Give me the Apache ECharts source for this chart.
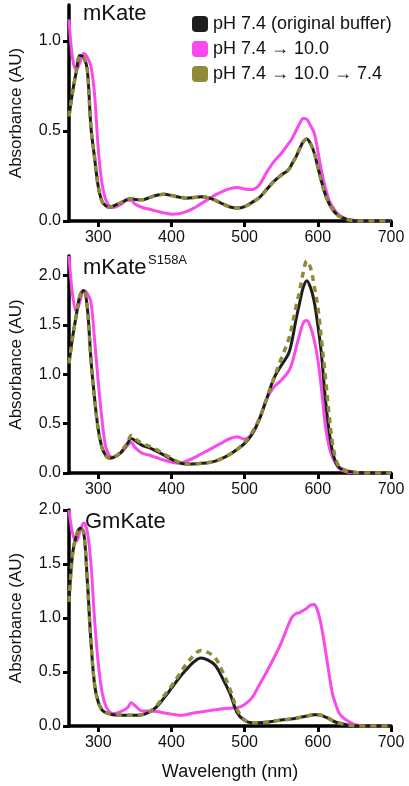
<!DOCTYPE html>
<html><head><meta charset="utf-8">
<script src="https://cdn.jsdelivr.net/npm/echarts@6/dist/echarts.min.js"></script>
<style>html,body{margin:0;padding:0;background:#fff}#c{width:409px;height:786px}</style>
</head><body><div id="c"></div>
<script>
// ---- DATA ----
const wavelengths = [260,265,270,275,280,285,290,295,300,305,310,315,320,330,340,345,350,360,370,380,390,400,410,420,430,440,450,460,470,480,490,500,510,520,530,540,550,560,565,570,575,580,585,590,595,600,605,610,615,620,625,630,640,650,660,680,700];

const seriesNames = ['pH 7.4 (original buffer)', 'pH 7.4 \u2192 10.0', 'pH 7.4 \u2192 10.0 \u2192 7.4'];
const panelTitles = ['mKate', 'mKate', 'GmKate'];
const panelSuperscripts = ['', 'S158A', ''];
const xTickValues = [300, 400, 500, 600, 700];
const yTicksMKate = [0, 0.5, 1.0];
const yTicksS158A = [0, 0.5, 1.0, 1.5, 2.0];
const yTicksGmKate = [0, 0.5, 1.0, 1.5, 2.0];
const yMaxes = [1.2, 2.2, 2.0];
const xAxisTitle = 'Wavelength (nm)';
const yAxisTitle = 'Absorbance (AU)';

// mKate
const mKateOriginal = [0.58,0.72,0.83,0.92,0.91,0.84,0.52,0.35,0.19,0.11,0.085,0.076,0.082,0.10,0.12,0.125,0.12,0.118,0.13,0.143,0.148,0.142,0.133,0.127,0.13,0.135,0.13,0.115,0.095,0.078,0.072,0.08,0.103,0.13,0.175,0.22,0.255,0.285,0.32,0.355,0.40,0.44,0.455,0.43,0.38,0.30,0.22,0.15,0.10,0.065,0.04,0.025,0.008,0.002,0,0,0];
const mKateHigh = [1.12,0.90,0.84,0.88,0.93,0.91,0.86,0.70,0.40,0.21,0.12,0.085,0.075,0.09,0.115,0.115,0.095,0.075,0.065,0.055,0.045,0.038,0.04,0.052,0.07,0.095,0.12,0.145,0.165,0.18,0.186,0.178,0.175,0.20,0.27,0.33,0.375,0.43,0.46,0.50,0.54,0.57,0.565,0.53,0.49,0.39,0.28,0.19,0.12,0.08,0.05,0.03,0.01,0.003,0,0,0];
const mKateReturned = [0.58,0.72,0.83,0.92,0.91,0.84,0.52,0.35,0.19,0.11,0.085,0.076,0.082,0.10,0.12,0.125,0.12,0.118,0.13,0.143,0.148,0.142,0.133,0.127,0.13,0.135,0.13,0.115,0.095,0.078,0.072,0.08,0.103,0.13,0.175,0.22,0.255,0.285,0.32,0.355,0.40,0.44,0.455,0.43,0.38,0.30,0.22,0.15,0.10,0.065,0.04,0.025,0.008,0.002,0,0,0];

// mKate S158A
const s158aOriginal = [1.11,1.38,1.60,1.80,1.85,1.68,1.15,0.75,0.44,0.26,0.18,0.15,0.155,0.20,0.30,0.35,0.33,0.28,0.255,0.22,0.18,0.14,0.105,0.09,0.092,0.098,0.105,0.12,0.15,0.19,0.24,0.30,0.39,0.54,0.75,0.96,1.09,1.21,1.35,1.55,1.72,1.88,1.95,1.88,1.74,1.50,1.20,0.78,0.45,0.22,0.10,0.05,0.02,0.008,0.002,0,0];
const s158aHigh = [2.20,1.80,1.64,1.74,1.85,1.82,1.73,1.35,0.92,0.55,0.27,0.18,0.16,0.20,0.28,0.31,0.26,0.20,0.18,0.155,0.13,0.11,0.10,0.12,0.15,0.19,0.23,0.27,0.31,0.35,0.365,0.345,0.40,0.55,0.75,0.87,0.94,1.03,1.12,1.26,1.40,1.52,1.545,1.48,1.35,1.15,0.85,0.50,0.28,0.16,0.09,0.04,0.01,0.003,0,0,0];
const s158aReturned = [1.11,1.38,1.60,1.80,1.85,1.68,1.15,0.75,0.44,0.26,0.18,0.15,0.155,0.21,0.31,0.38,0.35,0.30,0.27,0.235,0.19,0.15,0.11,0.09,0.09,0.097,0.105,0.12,0.15,0.19,0.24,0.31,0.41,0.55,0.75,0.96,1.16,1.35,1.50,1.68,1.84,2.03,2.15,2.08,1.90,1.68,1.35,1.00,0.62,0.30,0.13,0.06,0.02,0.008,0.002,0,0];

// GmKate
const gmKateOriginal = [1.15,1.60,1.76,1.83,1.80,1.35,0.78,0.38,0.22,0.15,0.125,0.112,0.105,0.10,0.10,0.10,0.10,0.105,0.13,0.18,0.26,0.35,0.44,0.52,0.59,0.63,0.61,0.56,0.44,0.30,0.12,0.05,0.03,0.03,0.035,0.045,0.055,0.062,0.066,0.072,0.078,0.085,0.092,0.10,0.105,0.105,0.098,0.085,0.07,0.05,0.035,0.025,0.01,0.003,0,0,0];
const gmKateHigh = [2.00,1.78,1.71,1.80,1.88,1.80,1.50,0.98,0.58,0.32,0.19,0.135,0.115,0.13,0.17,0.215,0.19,0.14,0.14,0.135,0.12,0.11,0.10,0.105,0.12,0.13,0.14,0.15,0.16,0.165,0.17,0.20,0.26,0.38,0.50,0.63,0.77,0.94,1.01,1.04,1.05,1.07,1.09,1.12,1.125,1.06,0.92,0.72,0.50,0.30,0.19,0.11,0.05,0.015,0.003,0,0];
const gmKateReturned = [1.15,1.60,1.76,1.83,1.80,1.35,0.78,0.38,0.22,0.15,0.125,0.112,0.105,0.10,0.10,0.10,0.10,0.105,0.13,0.19,0.28,0.37,0.47,0.57,0.65,0.70,0.68,0.63,0.50,0.34,0.15,0.055,0.03,0.03,0.035,0.045,0.055,0.062,0.066,0.072,0.078,0.085,0.092,0.10,0.105,0.105,0.098,0.085,0.07,0.05,0.035,0.025,0.01,0.003,0,0,0];

const panels = [
  {original: mKateOriginal, high: mKateHigh, returned: mKateReturned, yTicks: yTicksMKate},
  {original: s158aOriginal, high: s158aHigh, returned: s158aReturned, yTicks: yTicksS158A},
  {original: gmKateOriginal, high: gmKateHigh, returned: gmKateReturned, yTicks: yTicksGmKate}
];

// ---- STYLE / LAYOUT ----
const FONT = '"Liberation Sans", Arial, Helvetica, sans-serif';
const BLACK = '#1e1e1e';
const PINK = '#f94bec';
const OLIVE = '#8e8a36';
const gridBoxes = [
  {left: 67, top: 5, width: 324, height: 216},
  {left: 67, top: 256, width: 324, height: 217},
  {left: 67, top: 510, width: 324, height: 216}
];
const titlePos = [{x: 83, y: 3}, {x: 83, y: 257}, {x: 85, y: 511}];
const supPos = {x: 148, y: 254};

const pairs = vals => wavelengths.map((w, k) => [w, vals[k]]);

const xAxes = [], yAxes = [], series = [], graphics = [];
panels.forEach((p, i) => {
  xAxes.push({
    gridIndex: i, type: 'value', min: 260, max: 700,
    axisLine: {show: true, onZero: false, lineStyle: {color: '#000', width: 3.5}},
    axisTick: {show: true, customValues: xTickValues, length: 6, lineStyle: {color: '#000', width: 3}},
    axisLabel: {customValues: xTickValues, fontSize: 16, color: '#111', fontFamily: FONT, margin: 9},
    splitLine: {show: false},
    name: i === 2 ? xAxisTitle : '', nameLocation: 'middle', nameGap: 37,
    nameTextStyle: {fontSize: 18, color: '#111', fontFamily: FONT}
  });
  yAxes.push({
    gridIndex: i, type: 'value', min: 0, max: yMaxes[i],
    axisLine: {show: true, onZero: false, lineStyle: {color: '#000', width: 3.5}},
    axisTick: {show: true, customValues: p.yTicks, length: 6, lineStyle: {color: '#000', width: 3}},
    axisLabel: {customValues: p.yTicks, fontSize: 16, color: '#111', fontFamily: FONT, margin: 8,
      formatter: v => Number(v).toFixed(1)},
    splitLine: {show: false},
    name: yAxisTitle, nameLocation: 'middle', nameGap: 44,
    nameTextStyle: {fontSize: 17, color: '#111', fontFamily: FONT}
  });
  series.push({
    name: seriesNames[1], type: 'line', xAxisIndex: i, yAxisIndex: i, data: pairs(p.high),
    symbol: 'none', smooth: 0.35, color: PINK, itemStyle: {color: PINK},
    lineStyle: {color: PINK, width: 3}, z: 2
  });
  series.push({
    name: seriesNames[0], type: 'line', xAxisIndex: i, yAxisIndex: i, data: pairs(p.original),
    symbol: 'none', smooth: 0.35, color: BLACK, itemStyle: {color: BLACK},
    lineStyle: {color: BLACK, width: 3}, z: 3
  });
  series.push({
    name: seriesNames[2], type: 'line', xAxisIndex: i, yAxisIndex: i, data: pairs(p.returned),
    symbol: 'none', smooth: 0.35, color: OLIVE, itemStyle: {color: OLIVE},
    lineStyle: {color: OLIVE, width: 3.5, type: [6, 5]}, z: 4
  });
  graphics.push({type: 'text', left: titlePos[i].x, top: titlePos[i].y,
    style: {text: panelTitles[i], fontSize: 22, fill: '#111', fontFamily: FONT}});
  if (panelSuperscripts[i]) {
    graphics.push({type: 'text', left: supPos.x, top: supPos.y,
      style: {text: panelSuperscripts[i], fontSize: 13, fill: '#111', fontFamily: FONT}});
  }
});

const chart = echarts.init(document.getElementById('c'), null, {renderer: 'canvas'});
chart.setOption({
  animation: false,
  backgroundColor: '#fff',
  textStyle: {fontFamily: FONT},
  grid: gridBoxes,
  xAxis: xAxes,
  yAxis: yAxes,
  legend: {
    orient: 'vertical', left: 192, top: 15, padding: 0, itemWidth: 16, itemHeight: 16, itemGap: 7,
    icon: 'roundRect', selectedMode: false,
    itemStyle: {borderWidth: 0},
    lineStyle: {width: 0},
    textStyle: {fontSize: 18, color: '#111', fontFamily: FONT},
    data: seriesNames.map((n, k) => ({name: n, itemStyle: {color: [BLACK, PINK, OLIVE][k]}}))
  },
  graphic: graphics,
  series: series
});
</script></body></html>
